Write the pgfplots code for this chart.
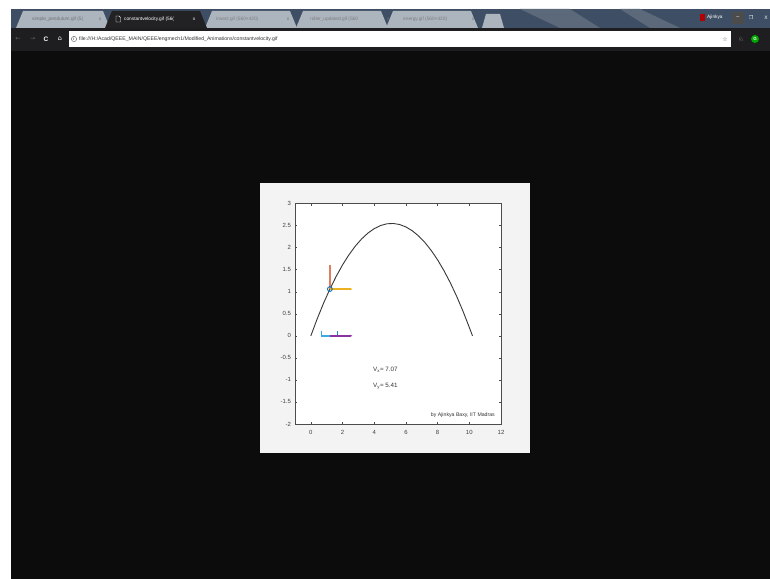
\documentclass[border=0pt]{standalone}
\usepackage{pgfplots}
\pgfplotsset{compat=1.18}
\usepackage{fontspec}
\setmainfont{Liberation Sans}
\newfontfamily\dejavu{DejaVu Sans}
\usetikzlibrary{arrows.meta}
\definecolor{tabbg}{RGB}{62,78,100}
\definecolor{tabin}{RGB}{172,180,190}
\definecolor{tabact}{RGB}{34,34,37}
\definecolor{addr}{RGB}{30,30,32}
\definecolor{screen}{RGB}{12,12,12}
\definecolor{panel}{RGB}{243,243,243}
\definecolor{mblue}{RGB}{0,114,189}
\definecolor{mlblue}{RGB}{60,170,225}
\definecolor{msalmon}{RGB}{225,125,95}
\definecolor{myellow}{RGB}{237,177,32}
\definecolor{mpurple}{RGB}{140,50,160}
\definecolor{curve}{RGB}{55,55,55}
\begin{document}
\begin{tikzpicture}
\useasboundingbox (0,0) rectangle (770bp,579bp);
\fill[white] (0,0) rectangle (770bp,579bp);
\begin{scope}[x=1bp,y=-1bp,shift={(0bp,579bp)}]
  % tab bar
  \fill[tabbg] (11,9) rectangle (770,28);
  \fill[tabbg!85!white] (520,9) -- (560,28) -- (600,28) -- (570,9) -- cycle;
  \fill[tabbg!85!white] (620,9) -- (650,28) -- (680,28) -- (640,9) -- cycle;
  % inactive tabs
  \foreach \a/\b in {16/110, 205/297, 296/388, 386/478}{
    \fill[tabin] (\a,28) -- (\a+7,11) -- (\b-7,11) -- (\b,28) -- cycle;
  }
  \fill[tabin] (482,28) -- (486,14) -- (500,14) -- (504,28) -- cycle;
  % active tab
  \fill[tabact] (105,28) -- (112,11) -- (200,11) -- (207,28) -- cycle;
  \node[font=\fontsize{4.8}{5}\selectfont, text=black!55, anchor=west, inner sep=0] at (32,19) {simple\_pendulum.gif (5(};
  \node[font=\fontsize{4.8}{5}\selectfont, text=black!55, inner sep=0] at (100,19) {x};
  \draw[white, line width=0.4bp] (116,16) -- (119,16) -- (120.5,17.5) -- (120.5,22) -- (116,22) -- cycle;
  \node[font=\fontsize{4.8}{5}\selectfont, text=white, anchor=west, inner sep=0] at (124,19) {constantvelocity.gif (56(};
  \node[font=\fontsize{4.8}{5}\selectfont, text=white, inner sep=0] at (194,19) {x};
  \node[font=\fontsize{4.8}{5}\selectfont, text=black!50, anchor=west, inner sep=0] at (216,19) {insect.gif (560×420)};
  \node[font=\fontsize{4.8}{5}\selectfont, text=black!55, inner sep=0] at (288,19) {x};
  \node[font=\fontsize{4.8}{5}\selectfont, text=black!50, anchor=west, inner sep=0] at (310,19) {roller\_updated.gif (560};
  \node[font=\fontsize{4.8}{5}\selectfont, text=black!55, inner sep=0] at (388,19) {x};
  \node[font=\fontsize{4.8}{5}\selectfont, text=black!50, anchor=west, inner sep=0] at (403,19) {energy.gif (560×420)};
  \node[font=\fontsize{4.8}{5}\selectfont, text=black!55, inner sep=0] at (473,19) {x};
  % user & window controls
  \fill[red!70!black] (700,14) rectangle (705,21);
  \node[font=\fontsize{4.8}{5}\selectfont, text=white, anchor=west, inner sep=0] at (707,17.5) {Ajinkya};
  \fill[black!70] (732,12) rectangle (744,24);
  \node[font=\fontsize{5.5}{6}\selectfont, text=white, inner sep=0] at (738,18) {--};
  \node[font=\fontsize{5}{6}\selectfont\dejavu, text=white, inner sep=0] at (751,18) {❐};
  \node[font=\fontsize{5}{6}\selectfont, text=white, inner sep=0] at (766,18) {X};
  % address bar
  \fill[addr] (11,28) rectangle (770,51);
  \fill[white] (69,31) rectangle (731,47);
  \node[font=\fontsize{6}{7}\selectfont\dejavu, text=black!60, inner sep=0] at (18,39) {←};
  \node[font=\fontsize{6}{7}\selectfont\dejavu, text=black!60, inner sep=0] at (33,39) {→};
  \node[font=\fontsize{6.5}{7}\selectfont\bfseries, text=white, inner sep=0] at (46,39) {C};
  \node[font=\fontsize{6.5}{7}\selectfont\dejavu, text=white, inner sep=0] at (60,39) {⌂};
  \draw[black!70, line width=0.4bp] (74,39) circle (2.6);
  \node[font=\fontsize{3.8}{4}\selectfont\bfseries, text=black!70, inner sep=0] at (74,39) {i};
  \node[font=\fontsize{5.2}{6}\selectfont, text=black!80, anchor=west, inner sep=0] at (79,39) {file:///H:/Acad/QEEE\_MAIN/QEEE/engmech1/Modified\_Animations/constantvelocity.gif};
  \node[font=\fontsize{6}{7}\selectfont\dejavu, text=black!70, inner sep=0] at (725,39) {☆};
  \node[font=\fontsize{6}{7}\selectfont\dejavu, text=white!80!black, inner sep=0] at (741,39) {♘};
  \fill[green!65!black] (755,39) circle (4);
  \node[font=\fontsize{4.5}{5}\selectfont\bfseries, text=white, inner sep=0] at (755,39) {G};
  % screen
  \fill[screen] (11,51) rectangle (770,579);
  % figure panel
  \fill[panel] (260,183) rectangle (530,453);
\end{scope}
\begin{axis}[
  at={(295bp,155bp)}, anchor=south west,
  scale only axis, width=206bp, height=220.5bp,
  xmin=-1, xmax=12, ymin=-2, ymax=3,
  xtick={0,2,4,6,8,10,12},
  ytick={-2,-1.5,-1,-0.5,0,0.5,1,1.5,2,2.5,3},
  axis background/.style={fill=white},
  axis line style={black!70, line width=0.5bp},
  tick style={black!70, line width=0.4bp},
  major tick length=2bp,
  tick align=inside,
  ticklabel style={font=\fontsize{6}{7}\selectfont, text=black!75},
  /pgf/number format/assume math mode=true,
  /pgf/number format/fixed,
  xticklabel style={yshift=-2.5bp},
  yticklabel style={xshift=-0.5bp},
  clip=false,
]
\addplot[color=curve, line width=0.9bp] coordinates {
(0,0) (0.4,0.3843) (0.8,0.7372) (1.2,1.0587) (1.6,1.3489) (2.0,1.6076)
(2.4,1.8349) (2.8,2.0309) (3.2,2.1955) (3.6,2.3286) (4.0,2.4304) (4.4,2.5008)
(4.8,2.5398) (5.2,2.5474) (5.6,2.5236) (6.0,2.4684) (6.4,2.3818) (6.8,2.2639)
(7.2,2.1145) (7.6,1.9337) (8.0,1.7216) (8.4,1.4781) (8.8,1.2031) (9.2,0.8968)
(9.6,0.5591) (10.0,0.19) (10.2,0)
};
\addplot[color=msalmon, line width=1.5bp] coordinates {(1.2,1.06) (1.2,1.61)};
\addplot[color=myellow, line width=1.3bp, -{Latex[length=2.5bp,width=2.5bp]}] coordinates {(1.2,1.06) (2.63,1.06)};
\addplot[color=mblue, only marks, mark=o, mark size=2.4bp, mark options={line width=0.9bp}] coordinates {(1.2,1.06)};
\addplot[color=mlblue, line width=1.5bp] coordinates {(0.68,0.12) (0.68,0) (1.24,0)};
\addplot[color=mblue!60!mlblue, line width=1.2bp] coordinates {(1.7,0) (1.7,0.11)};
\addplot[color=mpurple, line width=1.5bp, -{Latex[length=2.5bp,width=2.5bp]}] coordinates {(1.24,0) (2.63,0)};
\node[anchor=west, font=\fontsize{6.3}{7}\selectfont, text=black!80, inner sep=0] at (axis cs:3.92,-0.78) {V\textsubscript{x}= 7.07};
\node[anchor=west, font=\fontsize{6.3}{7}\selectfont, text=black!80, inner sep=0] at (axis cs:3.92,-1.14) {V\textsubscript{y}= 5.41};
\node[anchor=east, font=\fontsize{5.2}{6}\selectfont, text=black!80, inner sep=0] at (axis cs:11.62,-1.80) {by Ajinkya Baxy, IIT Madras};
\end{axis}
\end{tikzpicture}
\end{document}
